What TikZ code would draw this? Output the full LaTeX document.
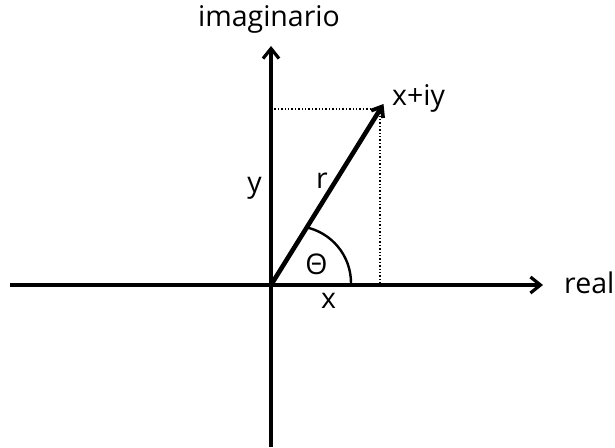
\documentclass[tikz,border=0pt]{standalone}
\usepackage{fontspec}
\setmainfont{Open Sans}
\usetikzlibrary{arrows.meta}
\begin{document}
\begin{tikzpicture}[x=1pt,y=-1pt,
  axis/.style={line width=3.4pt,-{Straight Barb[length=10pt,width=16pt,line width=3.2pt]}},
  vec/.style={line width=4.6pt,-{Straight Barb[length=9pt,width=14pt,line width=3.8pt]}},
  guide/.style={line width=1.4pt,dotted},
  anglearc/.style={line width=2.4pt},
  lbl/.style={inner sep=0pt,font=\fontsize{28.5}{32}\selectfont}]
\useasboundingbox (0,0) rectangle (615,447);
\coordinate (O) at (271,285);
\coordinate (Xl) at (10,285);
\coordinate (Xr) at (543,285);
\coordinate (Yb) at (271,447);
\coordinate (Yt) at (271,46);
\coordinate (P) at (380,109);
\coordinate (Tip) at (383.5,104);
\coordinate (Py) at (271,109);
\coordinate (Px) at (380,285);
\coordinate (A0) at (351,283);
\draw[axis] (Xl) -- (Xr);
\draw[axis] (Yb) -- (Yt);
\draw[guide] (Py) -- (P) -- (Px);
\draw[vec] (O) -- (Tip);
\draw[anglearc] (A0) arc[start angle=0,end angle=-79,radius=57];
\node[lbl,anchor=base] (im) at (269,27) {imaginario};
\node[lbl,anchor=base west] (z) at (392,105) {x+iy};
\node[lbl,anchor=base] (ly) at (254.5,192) {y};
\node[lbl,anchor=base] (lr) at (322,188) {r};
\node[lbl,anchor=base] (th) at (316.5,274) {Θ};
\node[lbl,anchor=base] (lx) at (328.5,308) {x};
\node[lbl,anchor=base west] (re) at (564,293) {real};
\end{tikzpicture}
\end{document}
